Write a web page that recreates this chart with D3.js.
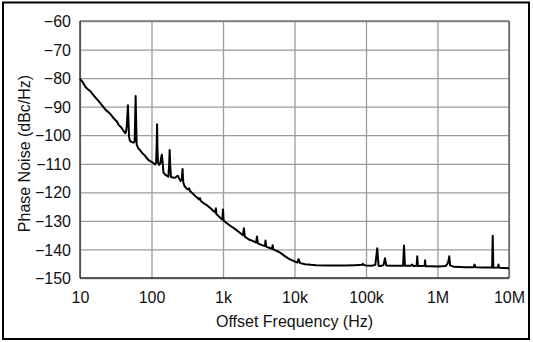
<!DOCTYPE html>
<html>
<head>
<meta charset="utf-8">
<script src="https://cdn.jsdelivr.net/npm/d3@7"></script>
<style>
  html, body { margin: 0; padding: 0; background: #fff; }
  svg { display: block; font-family: "Liberation Sans", Arial, Helvetica, sans-serif; }
</style>
</head>
<body>
<svg id="chart" width="533" height="342"></svg>
<script>
// Offset frequency (Hz) and measured single-sideband phase noise (dBc/Hz)
const freqHz = [
  10, 11, 12, 13, 14, 15, 17, 19, 21, 23, 25, 27, 29, 31, 33, 35, 37, 39, 41, 43,
  44, 45, 46, 46.8, 47.5, 48.5, 50, 53, 56, 58, 59, 60, 61, 62, 65, 70, 75, 80, 85, 90,
  100, 108, 113, 116, 118, 119.7, 121, 123, 128, 133, 136, 139.6, 143, 147, 155, 165, 172, 176, 179.5, 183,
  187, 200, 215, 225, 233, 242, 255, 265, 272, 278, 290, 310, 325, 335, 345, 380, 420, 440, 460, 475,
  490, 540, 600, 680, 740, 780, 795, 810, 880, 940, 980, 1000, 1020, 1100, 1250, 1450, 1650, 1900, 1960, 2020,
  2300, 2600, 2900, 2985, 3080, 3500, 3850, 3930, 4020, 4500, 4850, 4944, 5050, 5500, 6000, 6500, 7500, 8500, 10000, 11000,
  11400, 12000, 14000, 17000, 20000, 30000, 50000, 70000, 88000, 90000, 92000, 100000, 120000, 135000, 140000, 143600, 147000, 150000, 160000, 175000,
  184500, 192000, 250000, 330000, 340000, 350000, 420000, 443000, 460000, 510000, 521000, 532000, 600000, 660000, 671000, 682000, 800000, 1000000, 1300000, 1380000,
  1420000, 1460000, 1500000, 1700000, 2500000, 3200000, 3300000, 3400000, 4500000, 5800000, 5920000, 6040000, 7000000, 7130000, 7260000, 8500000, 10000000
];
const noiseDbc = [
  -80.3, -81.5, -83.2, -84.0, -84.6, -85.6, -87.2, -88.6, -90.0, -91.2, -91.9, -92.8, -93.8, -94.6, -95.3, -96.5, -97.0, -97.8, -98.6, -99.3,
  -98.8, -97.0, -93.0, -89.5, -94.0, -100.5, -102.0, -102.4, -102.6, -102.3, -95.0, -86.3, -95.0, -103.2, -104.5, -105.4, -106.4, -107.0, -107.9, -108.6,
  -109.3, -109.9, -110.2, -109.6, -104.0, -96.2, -104.0, -109.5, -110.4, -109.8, -108.0, -106.8, -109.5, -113.0, -113.8, -114.2, -114.5, -111.0, -105.2, -111.0,
  -114.6, -114.8, -114.9, -114.4, -114.2, -115.0, -116.0, -115.5, -111.8, -116.5, -117.8, -118.7, -119.0, -118.6, -119.5, -120.5, -121.6, -121.9, -122.5, -122.0,
  -123.0, -123.9, -124.6, -125.7, -126.6, -127.0, -125.6, -127.6, -128.5, -129.2, -129.5, -126.0, -129.9, -130.6, -131.6, -132.7, -133.8, -135.0, -132.6, -135.5,
  -136.5, -137.0, -137.6, -135.5, -137.9, -138.5, -138.8, -136.9, -139.0, -139.5, -139.8, -138.5, -140.0, -140.4, -140.8, -141.4, -142.5, -143.4, -144.2, -144.6,
  -143.4, -144.8, -145.2, -145.4, -145.5, -145.6, -145.6, -145.5, -145.4, -145.0, -145.4, -145.6, -145.7, -145.4, -142.0, -139.6, -143.0, -145.7, -145.8, -145.5,
  -143.1, -145.6, -145.7, -145.7, -138.6, -145.7, -145.7, -145.3, -145.8, -145.7, -142.4, -145.8, -145.8, -145.7, -143.8, -145.9, -145.9, -146.0, -145.8, -145.0,
  -144.2, -142.4, -145.6, -146.1, -146.2, -146.2, -145.3, -146.2, -146.3, -146.3, -135.2, -146.4, -146.3, -145.3, -146.4, -146.5, -146.6
];

// Axis ticks
const xTickValues = [10, 100, 1e3, 1e4, 1e5, 1e6, 1e7];
const xTickLabels = ["10", "100", "1k", "10k", "100k", "1M", "10M"];
const yTickValues = [-150, -140, -130, -120, -110, -100, -90, -80, -70, -60];

const xTitle = "Offset Frequency (Hz)";
const yTitle = "Phase Noise (dBc/Hz)";

const svg = d3.select("#chart");
const W = 533, H = 342;
const plot = { left: 80, right: 509, top: 21, bottom: 278 };

// Outer frame
svg.append("rect")
  .attr("x", 3).attr("y", 2.5)
  .attr("width", 526).attr("height", 336.5)
  .attr("fill", "none").attr("stroke", "#000").attr("stroke-width", 2);

const x = d3.scaleLog().domain([10, 1e7]).range([plot.left, plot.right]);
const y = d3.scaleLinear().domain([-150, -60]).range([plot.bottom, plot.top]);

// Grid lines
const gridX = svg.append("g")
  .attr("transform", `translate(0,${plot.bottom})`)
  .call(d3.axisBottom(x).tickValues(xTickValues).tickSize(-(plot.bottom - plot.top)).tickFormat(""));
gridX.select(".domain").remove();
gridX.selectAll("line").attr("stroke", "#9c9c9c").attr("stroke-width", 1.3);

const gridY = svg.append("g")
  .attr("transform", `translate(${plot.left},0)`)
  .call(d3.axisLeft(y).tickValues(yTickValues).tickSize(-(plot.right - plot.left)).tickFormat(""));
gridY.select(".domain").remove();
gridY.selectAll("line").attr("stroke", "#9c9c9c").attr("stroke-width", 1.3);

// Plot frame: dark left/bottom axes, grey top/right
svg.append("line").attr("x1", plot.left).attr("x2", plot.right).attr("y1", plot.top).attr("y2", plot.top)
  .attr("stroke", "#777").attr("stroke-width", 1.3);
svg.append("line").attr("x1", plot.right).attr("x2", plot.right).attr("y1", plot.top).attr("y2", plot.bottom)
  .attr("stroke", "#555").attr("stroke-width", 1.3);
svg.append("line").attr("x1", plot.left).attr("x2", plot.left).attr("y1", plot.top).attr("y2", plot.bottom)
  .attr("stroke", "#333").attr("stroke-width", 1.4);
svg.append("line").attr("x1", plot.left).attr("x2", plot.right).attr("y1", plot.bottom).attr("y2", plot.bottom)
  .attr("stroke", "#333").attr("stroke-width", 1.4);

// Tick labels
const xAxis = svg.append("g")
  .attr("transform", `translate(0,${plot.bottom})`)
  .call(d3.axisBottom(x).tickValues(xTickValues).tickSize(0).tickPadding(0)
    .tickFormat((d, i) => xTickLabels[i]));
xAxis.select(".domain").remove();
xAxis.selectAll("text")
  .attr("y", 25).attr("dy", 0)
  .attr("font-size", 16).attr("fill", "#111")
  .style("font-family", "'Liberation Sans', Arial, sans-serif");

const yAxis = svg.append("g")
  .attr("transform", `translate(${plot.left},0)`)
  .call(d3.axisLeft(y).tickValues(yTickValues).tickSize(0).tickPadding(0)
    .tickFormat(d => d3.format("d")(d).replace("-", "\u2212")));
yAxis.select(".domain").remove();
yAxis.selectAll("text")
  .attr("x", -9).attr("dy", "0.35em")
  .attr("font-size", 16).attr("fill", "#111")
  .style("font-family", "'Liberation Sans', Arial, sans-serif");

// Axis titles
svg.append("text")
  .attr("x", (plot.left + plot.right) / 2).attr("y", 327)
  .attr("text-anchor", "middle").attr("font-size", 16).attr("fill", "#111")
  .text(xTitle);
svg.append("text")
  .attr("transform", `translate(30,${(plot.top + plot.bottom) / 2 + 4}) rotate(-90)`)
  .attr("text-anchor", "middle").attr("font-size", 16).attr("fill", "#111")
  .text(yTitle);

// Phase noise trace
const points = freqHz.map((f, i) => [f, noiseDbc[i]]);
const line = d3.line().x(d => x(d[0])).y(d => y(d[1]));
svg.append("path")
  .datum(points)
  .attr("d", line)
  .attr("fill", "none")
  .attr("stroke", "#000")
  .attr("stroke-width", 2)
  .attr("stroke-linejoin", "round");
</script>
</body>
</html>
